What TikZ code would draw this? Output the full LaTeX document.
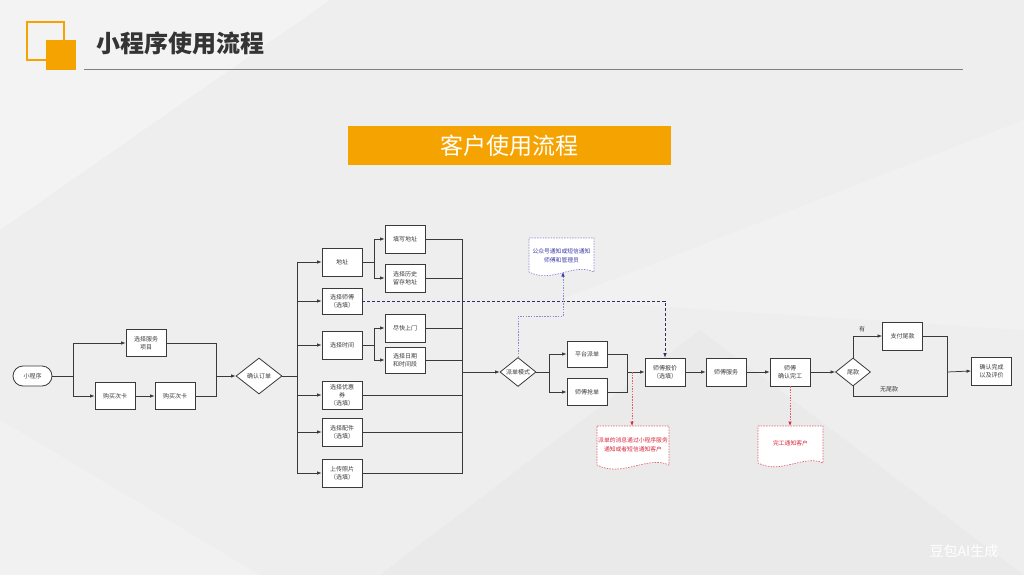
\documentclass[tikz,border=0pt]{standalone}
\usepackage{fontspec}
\newfontfamily\cjk{Noto Sans CJK SC}
\usetikzlibrary{shapes.geometric,arrows.meta,calc}
\definecolor{bg}{HTML}{EEEEEE}
\definecolor{org}{HTML}{F5A300}
\definecolor{ln}{HTML}{3A3A3A}
\definecolor{nblue}{HTML}{3A3AA8}
\definecolor{lblue}{HTML}{8A8AD0}
\definecolor{nred}{HTML}{D8283C}
\definecolor{lred}{HTML}{E0606E}
\tikzset{
  box/.style={draw=ln, line width=0.8pt, fill=white, minimum width=40pt, minimum height=28pt,
    inner sep=1pt, align=center, font=\cjk\fontsize{6}{8}\selectfont, text=ln},
  dia/.style={diamond, draw=ln, line width=0.8pt, fill=white, aspect=1.4, inner sep=0pt,
    font=\cjk\fontsize{6}{7}\selectfont, text=ln},
  conn/.style={draw=ln, line width=0.75pt},
  arr/.style={conn, -{Latex[length=4.5pt,width=3.5pt]}},
  dsh/.style={draw=ln!80!blue, line width=0.65pt, dash pattern=on 3pt off 2pt, -{Latex[length=4.5pt,width=3.5pt]}},
  bdot/.style={draw=lblue, line width=0.65pt, dash pattern=on 1.5pt off 1.2pt, -{Latex[length=4.5pt,width=3.5pt,fill=nblue,color=nblue]}},
  rdot/.style={draw=lred, line width=0.65pt, dash pattern=on 1.5pt off 1.2pt, -{Latex[length=4.5pt,width=3.5pt,fill=nred,color=nred]}},
  notetxt/.style={align=center, inner sep=0pt, font=\cjk\fontsize{5.8}{8.5}\selectfont},
  lbl/.style={font=\cjk\fontsize{6}{7}\selectfont, text=ln, inner sep=0pt},
}
\begin{document}
\begin{tikzpicture}[x=1pt,y=-1pt]
\useasboundingbox (0,0) rectangle (1024,575);
% background
\fill[bg] (0,0) rectangle (1024,575);
\fill[white,opacity=0.3] (0,0) -- (330,0) -- (0,230) -- cycle;
\fill[white,opacity=0.2] (560,300) -- (1024,120) -- (1024,330) -- cycle;
\fill[white,opacity=0.2] (0,575) -- (0,420) -- (260,575) -- cycle;
\fill[black,opacity=0.015] (380,575) -- (700,330) -- (1024,575) -- cycle;
% header
\draw[org, line width=1.3pt] (27,22) rectangle (64,60);
\fill[org] (46,40) rectangle (76,70);
\node[anchor=west, font=\cjk\bfseries\fontsize{24}{28}\selectfont, text=ln!90!black, inner sep=0pt] (title) at (96,43) {小程序使用流程};
\draw[gray, line width=0.9pt] (84,69) -- (963,69);
\fill[org] (348,126) rectangle (671,165);
\node[font=\cjk\fontsize{23}{26}\selectfont, text=white, inner sep=0pt] (banner) at (509.5,145.5) {客户使用流程};
% nodes
\node[box, rounded corners=10pt, minimum width=39pt, minimum height=20pt] (mp) at (32.5,376) {小程序};
\node[box, minimum height=27pt] (xzfw) at (146,343) {选择服务\\项目};
\node[box, minimum height=27pt] (gm1) at (115,396) {购买次卡};
\node[box, minimum height=27pt] (gm2) at (175,396) {购买次卡};
\node[dia, minimum width=46pt, minimum height=36pt] (qr) at (259,376) {确认订单};
\node[box] (dz) at (342,262) {地址};
\node[box, minimum height=26pt] (xzsf) at (342,301) {选择师傅\\（选填）};
\node[box] (xzsj) at (342,345) {选择时间};
\node[box] (yhq) at (342,395) {选择优惠\\券\\（选填）};
\node[box] (pj) at (342,432) {选择配件\\（选填）};
\node[box] (zp) at (342,473) {上传照片\\（选填）};
\node[box] (txdz) at (405,239) {填写地址};
\node[box] (lsdz) at (405,278) {选择历史\\留存地址};
\node[box] (jk) at (405,328) {尽快上门};
\node[box, minimum height=26pt] (rq) at (405,360) {选择日期\\和时间段};
\node[dia, minimum width=36pt, minimum height=29pt] (pd) at (518,372) {派单模式};
\node[box, minimum height=26pt] (pt) at (587,354) {平台派单};
\node[box, minimum height=27pt] (qd) at (587,392) {师傅抢单};
\node[box] (bj) at (665,372) {师傅报价\\（选填）};
\node[box] (fw) at (726,372) {师傅服务};
\node[box] (qrwg) at (790,372) {师傅\\确认完工};
\node[dia, minimum width=35pt, minimum height=28pt] (wk) at (853,372) {尾款};
\node[box] (zf) at (902.5,336) {支付尾款};
\node[box] (wc) at (991.5,371) {确认完成\\以及评价};
% coordinates
\coordinate (j1) at (73,376);
\coordinate (j2) at (216,376);
\coordinate (b1) at (297,376);
\coordinate (b2) at (374,262);
\coordinate (b3) at (374,345);
\coordinate (b4) at (462,372);
\coordinate (b5) at (549,372);
\coordinate (b6) at (627,372);
\coordinate (b7) at (947,372);
\coordinate (b8) at (947,396);
% connectors
\draw[conn] (mp.east) -- (j1);
\draw[arr] (j1) |- (xzfw.west);
\draw[arr] (j1) |- (gm1.west);
\draw[arr] (gm1) -- (gm2);
\draw[conn] (xzfw.east) -| (j2);
\draw[conn] (gm2.east) -| (j2);
\draw[arr] (j2) -- (qr.west);
\draw[conn] (qr.east) -- (b1);
\foreach \n in {dz,xzsf,xzsj,yhq,pj,zp} \draw[arr] (b1) |- (\n.west);
\draw[conn] (dz.east) -- (b2);
\draw[arr] (b2) |- (txdz.west);
\draw[arr] (b2) |- (lsdz.west);
\draw[conn] (xzsj.east) -- (b3);
\draw[arr] (b3) |- (jk.west);
\draw[arr] (b3) |- (rq.west);
\foreach \n in {txdz,lsdz,jk,rq,yhq,pj,zp} \draw[conn] (\n.east) -| (b4);
\draw[arr] (b4) -- (pd.west);
\draw[conn] (pd.east) -- (b5);
\draw[arr] (b5) |- (pt.west);
\draw[arr] (b5) |- (qd.west);
\draw[conn] (pt.east) -| (b6);
\draw[conn] (qd.east) -| (b6);
\draw[arr] (b6) -- (bj.west);
\draw[arr] (bj) -- (fw);
\draw[arr] (fw) -- (qrwg);
\draw[arr] (qrwg) -- (wk);
\draw[arr] (wk.north) |- (zf.west);
\node[lbl] (you) at (862,329) {有};
\draw[conn] (zf.east) -| (b7);
\draw[conn] (wk.south) |- (b8) -- (b7);
\node[lbl] (wwk) at (889,389) {无尾款};
\draw[arr] (b7) -- (wc.west);
% dashed from 选择师傅 to 师傅报价
\coordinate (d1) at (665,301);
\draw[dsh] (xzsf.east) -- (d1) -- (bj.north);
% blue note
\draw[lblue, line width=0.65pt, dash pattern=on 1.5pt off 1.2pt, fill=white] (529,238) -- (594,238) -- (594,272)
  .. controls (574,262) and (552,284) .. (529,272) -- cycle;
\node[notetxt, text=nblue] (n1) at (561.5,256) {公众号通知或短信通知\\师傅和管理员};
\coordinate (u1) at (518,316);
\coordinate (u2) at (563,316);
\coordinate (n1b) at (563,272);
\draw[bdot] (pd.north) -- (u1) -- (u2) -- (n1b);
% red note 1
\draw[lred, line width=0.65pt, dash pattern=on 1.5pt off 1.2pt, fill=white] (597,426) -- (669,426) -- (669,465)
  .. controls (648,455) and (622,478) .. (597,465) -- cycle;
\node[notetxt, text=nred] (n2) at (633,445) {派单的消息通过小程序服务\\通知或者短信通知客户};
\coordinate (r1) at (632,372);
\coordinate (n2t) at (632,426);
\draw[rdot] (r1) -- (n2t);
% red note 2
\draw[lred, line width=0.65pt, dash pattern=on 1.5pt off 1.2pt, fill=white] (758,426) -- (823,426) -- (823,463)
  .. controls (804,454) and (781,475) .. (758,463) -- cycle;
\node[notetxt, text=nred] (n3) at (790.5,443) {完工通知客户};
\coordinate (n3t) at (790,426);
\draw[rdot] (qrwg.south) -- (n3t);
% watermark
\node[font=\cjk\fontsize{14}{16}\selectfont, text=white, inner sep=0pt] (wm) at (964,551) {豆包AI生成};
\end{tikzpicture}
\end{document}
